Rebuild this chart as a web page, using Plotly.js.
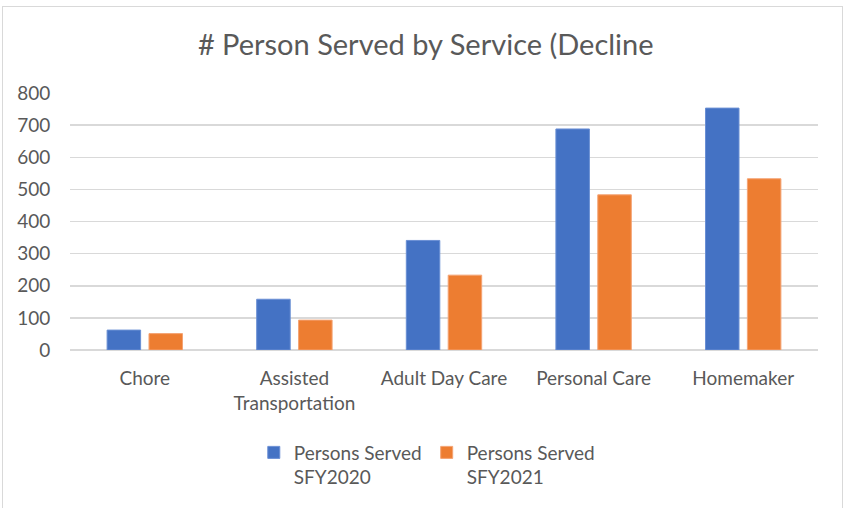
<!DOCTYPE html>
<html>
<head>
<meta charset="utf-8">
<script src="https://cdn.plot.ly/plotly-3.0.1.min.js"></script>
<style>
html,body{margin:0;padding:0;background:#fff;width:843px;height:508px;overflow:hidden;}
#frame{position:absolute;left:2px;top:6px;width:841px;height:520px;border:1px solid #d9d9d9;box-sizing:border-box;}
#chart{position:absolute;left:0;top:0;width:843px;height:508px;}
</style>
</head>
<body>
<div id="frame"></div>
<div id="chart"></div>
<script>
const categories = ["Chore", "Assisted<br>Transportation", "Adult Day Care", "Personal Care", "Homemaker"];
const seriesNames = ["Persons Served<br>SFY2020", "Persons Served<br>SFY2021"];
const sfy2020 = [62, 158, 341, 688, 753];
const sfy2021 = [51, 93, 233, 483, 533];
const yTicks = [0, 100, 200, 300, 400, 500, 600, 700, 800];

const FONT = "Lato, 'Liberation Sans', sans-serif";
const traces = [
  {type: "bar", x: categories, y: sfy2020, name: seriesNames[0],
   marker: {color: "#4472c4", line: {color: "#6a8fd4", width: 1}}},
  {type: "bar", x: categories, y: sfy2021, name: seriesNames[1],
   marker: {color: "#ed7d31", line: {color: "#f4a373", width: 1}}}
];
const layout = {
  width: 843, height: 508,
  paper_bgcolor: "rgba(0,0,0,0)", plot_bgcolor: "rgba(0,0,0,0)",
  margin: {l: 70, r: 25, t: 93, b: 156},
  font: {family: FONT, color: "#595959", size: 19},
  title: {text: "# Person Served by Service (Decline", x: 0.505, xanchor: "center", y: 0.912, yanchor: "middle",
          font: {family: FONT, size: 29, color: "#595959"}},
  barmode: "group", bargap: 0.44, bargroupgap: 0.2,
  xaxis: {type: "category", showgrid: false, zeroline: false, showline: false,
          ticks: "outside", ticklen: 11, tickcolor: "rgba(0,0,0,0)",
          tickfont: {family: FONT, size: 19, color: "#595959"}},
  yaxis: {range: [0, 800], tickvals: yTicks, showgrid: true, gridcolor: "#d9d9d9", gridwidth: 1.5,
          zeroline: true, zerolinecolor: "#d9d9d9", zerolinewidth: 1.5, showline: false,
          ticks: "outside", ticklen: 15, tickcolor: "rgba(0,0,0,0)",
          tickfont: {family: FONT, size: 19, color: "#595959"}},
  legend: {orientation: "h", x: 0.477, xanchor: "center", y: -0.325, yanchor: "top", valign: "top",
           font: {family: FONT, size: 19, color: "#595959"}, itemwidth: 30, tracegroupgap: 0},
  showlegend: true
};
Plotly.newPlot("chart", traces, layout, {displayModeBar: false, staticPlot: true});
</script>
</body>
</html>
